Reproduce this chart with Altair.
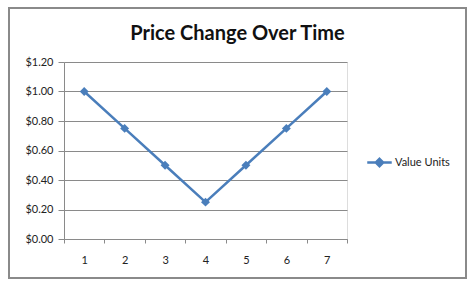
import altair as alt
import pandas as pd

periods = ["1", "2", "3", "4", "5", "6", "7"]
values = [1.00, 0.75, 0.50, 0.25, 0.50, 0.75, 1.00]
series = "Value Units"
y_ticks = [0, 0.2, 0.4, 0.6, 0.8, 1.0, 1.2]

df = pd.DataFrame({"period": periods, "value": values, "series": [series] * len(periods)})

FONT = "Lato"
BLUE = "#4a7ebb"
GREY = "#8a8a8a"

border = alt.Chart(pd.DataFrame({"a": [0]})).mark_rect(
    fillOpacity=0, stroke=GREY, strokeWidth=2
).encode(
    x=alt.value(-55), x2=alt.value(402), y=alt.value(-54), y2=alt.value(216)
)

line = alt.Chart(df).mark_line(
    strokeWidth=2.5,
    point=alt.OverlayMarkDef(shape="diamond", size=80, filled=True, color=BLUE),
).encode(
    x=alt.X("period:O", sort=periods, bandPosition=0.5,
            scale=alt.Scale(type="band", paddingInner=0, paddingOuter=0),
            axis=alt.Axis(title=None, labelAngle=0, tickBand="extent", tickSize=4,
                          labelPadding=11, domainColor=GREY, tickColor=GREY,
                          labelFont=FONT, labelFontSize=11, labelColor="#222",
                          grid=False)),
    y=alt.Y("value:Q", scale=alt.Scale(domain=[0, 1.2], nice=False),
            axis=alt.Axis(title=None, values=y_ticks, format="$.2f", tickSize=6,
                          labelPadding=5, domainColor=GREY, tickColor=GREY,
                          gridColor=GREY, gridWidth=1, labelFont=FONT,
                          labelFontSize=11, labelColor="#222")),
    color=alt.Color("series:N", scale=alt.Scale(range=[BLUE]),
                    legend=alt.Legend(title=None, orient="none", legendX=302, legendY=87,
                                      symbolType="M-1,0L1,0M0,-0.3L0.3,0L0,0.3L-0.3,0Z",
                                      symbolSize=600, symbolStrokeWidth=2.5,
                                      symbolFillColor=BLUE,
                                      labelFont=FONT, labelFontSize=11, labelColor="#222",
                                      labelOffset=2)),
)

chart = alt.layer(border, line).properties(
    width=283, height=177,
    autosize=alt.AutoSizeParams(type="none"),
    padding={"left": 64, "top": 62, "right": 127, "bottom": 50},
    title=alt.TitleParams("Price Change Over Time", font=FONT, fontSize=20,
                          fontWeight="bold", color="#111", anchor="middle",
                          frame="group", dx=32, offset=-53, baseline="alphabetic"),
).configure_view(stroke=None).configure(background="white")

chart.save("out.html", embed_options={"renderer": "svg", "actions": False})
